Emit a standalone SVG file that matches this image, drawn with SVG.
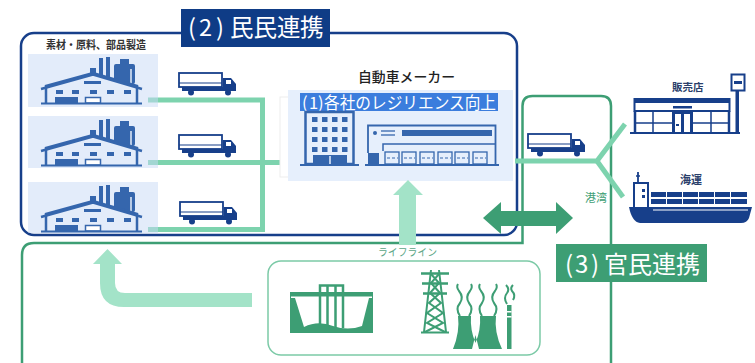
<svg xmlns="http://www.w3.org/2000/svg" xmlns:xlink="http://www.w3.org/1999/xlink" width="755" height="363" viewBox="0 0 755 363">
  <style>
    .jp { font-family: "Noto Sans CJK JP", "Noto Sans", sans-serif; }
    .navy-line { fill: none; stroke: #173f8a; stroke-width: 2.5; }
    .green-line { fill: none; stroke: #3d9e74; stroke-width: 2.5; }
    .flow { fill: none; stroke: #7dd3ae; stroke-width: 5; }
    .panel { fill: #c7d9f5; fill-opacity: 0.5; }
    .fac { fill: #3566ad; }
    .fac-s { fill: none; stroke: #3566ad; }
    .navy { fill: #173f8a; }
    .navy-s { fill: none; stroke: #173f8a; }
    .grn { fill: #3d9e74; }
    .grn-s { fill: none; stroke: #3d9e74; }
    .mint { fill: #a3e3c8; }
  </style>
  <defs>
    <!-- factory icon, drawn for the top panel -->
    <g id="factory">
      <rect x="99" y="58" width="4" height="20" class="fac"/>
      <rect x="106" y="57" width="4" height="21" class="fac"/>
      <rect x="114" y="64" width="21" height="20" rx="2" class="fac"/>
      <rect x="120" y="59" width="9" height="5" class="fac"/>
      <line x1="131" y1="69" x2="131" y2="84" stroke="#e3ecfa" stroke-width="1.5"/>
      <rect x="90" y="68" width="6" height="5" class="fac"/>
      <path d="M46,103 V86 L93,73 L137,86 V103" fill="#e3ecfa" stroke="#3566ad" stroke-width="2.5"/>
      <polyline points="41,89 93,74.5 142,89" class="fac-s" stroke-width="2.5"/>
      <rect x="84" y="81" width="17" height="3" class="fac"/>
      <rect x="56" y="90" width="7" height="4" class="fac"/>
      <rect x="72" y="90" width="7" height="4" class="fac"/>
      <rect x="90" y="90" width="7" height="4" class="fac"/>
      <rect x="107" y="90" width="7" height="4" class="fac"/>
      <rect x="124" y="90" width="7" height="4" class="fac"/>
      <rect x="55" y="97" width="23" height="6" class="fac"/>
      <rect x="85.5" y="97.5" width="15" height="5.5" fill="#fff" stroke="#3566ad" stroke-width="1.5"/>
      <line x1="41" y1="103.5" x2="142" y2="103.5" stroke="#3566ad" stroke-width="2"/>
    </g>
    <!-- delivery truck -->
    <g id="truck">
      <rect x="1" y="1" width="43" height="14" fill="#fff" stroke="#173f8a" stroke-width="1.8"/>
      <line x1="1" y1="11" x2="44" y2="11" stroke="#173f8a" stroke-width="1.2"/>
      <path d="M45,6 H53 L58,12 V19 H45 Z" class="navy"/>
      <rect x="48" y="8" width="5" height="4" fill="#fff"/>
      <rect x="4" y="15" width="54" height="4" class="navy"/>
      <circle cx="13" cy="20.5" r="3" class="navy"/>
      <circle cx="50" cy="20.5" r="3" class="navy"/>
    </g>
  </defs>

  <!-- private sector frame -->
  <g id="private-frame">
    <rect x="21" y="33" width="496" height="202" rx="13" class="navy-line"/>
    <rect x="181" y="9" width="149" height="38" fill="#0f3c86"/>
    <text class="jp" x="188 199 216 230 253.5 277 300" y="36" font-size="23.5" fill="#fff">(2)民民連携</text>
    <text class="jp" x="46" y="49" font-size="11" font-weight="700" fill="#333" textLength="100" lengthAdjust="spacingAndGlyphs">素材・原料、部品製造</text>
  </g>

  <!-- public-private frame: lifeline area joined with the port -->
  <g id="public-frame">
    <path d="M22,363 V255 Q22,243 34,243 H522.5 V106 Q522.5,96 532.5,96 H601 Q611,96 611,106 V363" class="green-line"/>
    <rect x="268" y="261" width="272" height="94" rx="13" fill="#fff" stroke="#7ccaa7" stroke-width="1.5"/>
    <text class="jp" x="378" y="256" font-size="10" fill="#5ba585" textLength="59" lengthAdjust="spacingAndGlyphs">ライフライン</text>
  </g>

  <g id="connectors">
    <polyline points="148,100 262.5,100 262.5,229.5 148,229.5" class="flow"/>
    <line x1="148" y1="162.5" x2="290" y2="162.5" class="flow"/>
    <polyline points="515,161 597,161 625,124" class="flow"/>
    <line x1="597" y1="161" x2="623" y2="197" class="flow"/>
  </g>

  <!-- suppliers -->
  <g id="supplier-1">
    <rect x="28" y="54" width="130" height="53" class="panel"/>
    <use xlink:href="#factory"/>
    <use xlink:href="#truck" transform="translate(178,72)"/>
  </g>
  <g id="supplier-2">
    <rect x="28" y="116" width="130" height="52" class="panel"/>
    <use xlink:href="#factory" transform="translate(0,62)"/>
    <use xlink:href="#truck" transform="translate(178,134)"/>
  </g>
  <g id="supplier-3">
    <rect x="28" y="182" width="130" height="51" class="panel"/>
    <use xlink:href="#factory" transform="translate(0,128)"/>
    <use xlink:href="#truck" transform="translate(179,201)"/>
  </g>

  <!-- automaker -->
  <g id="automaker">
    <text class="jp" x="358" y="82" font-size="13.5" font-weight="500" fill="#222" textLength="97" lengthAdjust="spacingAndGlyphs">自動車メーカー</text>
    <rect x="280" y="97" width="230" height="80" fill="#fff" stroke="#ededed" stroke-width="1"/>
    <rect x="288" y="90" width="225" height="91" fill="#e6effc"/>
    <rect x="300" y="93" width="198" height="18" fill="#3b7ddd"/>
    <text class="jp" x="302 309 318" y="108.5" font-size="16.5" fill="#fff">(1)</text>
    <text class="jp" x="324" y="108.5" font-size="16.5" fill="#fff" textLength="172" lengthAdjust="spacingAndGlyphs">各社のレジリエンス向上</text>
    <!-- office building -->
    <rect x="305.5" y="112" width="48" height="52" fill="none" stroke="#3566ad" stroke-width="2.5"/>
    <g class="fac">
      <rect x="312" y="117" width="5.5" height="5"/><rect x="322" y="117" width="5.5" height="5"/><rect x="332" y="117" width="5.5" height="5"/><rect x="342" y="117" width="5.5" height="5"/>
      <rect x="312" y="127" width="5.5" height="5"/><rect x="322" y="127" width="5.5" height="5"/><rect x="332" y="127" width="5.5" height="5"/><rect x="342" y="127" width="5.5" height="5"/>
      <rect x="312" y="137" width="5.5" height="5"/><rect x="322" y="137" width="5.5" height="5"/><rect x="332" y="137" width="5.5" height="5"/><rect x="342" y="137" width="5.5" height="5"/>
      <rect x="312" y="147" width="5.5" height="5"/><rect x="322" y="147" width="5.5" height="5"/><rect x="332" y="147" width="5.5" height="5"/><rect x="342" y="147" width="5.5" height="5"/>
      <rect x="313" y="155" width="34" height="9"/>
    </g>
    <line x1="330" y1="156" x2="330" y2="164" stroke="#e6effc" stroke-width="1.5"/>
    <line x1="300" y1="165" x2="359" y2="165" stroke="#3566ad" stroke-width="2"/>
    <!-- warehouse -->
    <path d="M368,153 V125.5 H495.5 V165" fill="none" stroke="#3566ad" stroke-width="1.8"/>
    <circle cx="375" cy="133" r="2" class="fac"/>
    <line x1="381" y1="131" x2="395" y2="131" stroke="#3566ad" stroke-width="1.3"/>
    <line x1="381" y1="135" x2="395" y2="135" stroke="#3566ad" stroke-width="1.3"/>
    <rect x="402" y="130" width="90" height="6" class="fac"/>
    <path d="M383,151 V144 H495" fill="none" stroke="#3566ad" stroke-width="1.5"/>
    <rect x="368" y="153" width="11" height="11" class="fac"/>
    <g fill="none" stroke="#3566ad" stroke-width="1.3">
      <rect x="385" y="152" width="14" height="12"/><rect x="402" y="152" width="14" height="12"/>
      <rect x="420" y="152" width="14" height="12"/><rect x="438" y="152" width="14" height="12"/>
      <rect x="455" y="152" width="14" height="12"/><rect x="473" y="152" width="14" height="12"/>
    </g>
    <g stroke="#3566ad" stroke-width="1" stroke-dasharray="3,2">
      <line x1="387" y1="158" x2="398" y2="158"/><line x1="404" y1="158" x2="415" y2="158"/>
      <line x1="422" y1="158" x2="433" y2="158"/><line x1="440" y1="158" x2="451" y2="158"/>
      <line x1="457" y1="158" x2="468" y2="158"/><line x1="475" y1="158" x2="486" y2="158"/>
    </g>
    <line x1="365" y1="165" x2="499" y2="165" stroke="#3566ad" stroke-width="2"/>
  </g>

  <!-- port -->
  <g id="port">
    <use xlink:href="#truck" transform="translate(527,133)"/>
    <text class="jp" x="585" y="202" font-size="11" fill="#3d9e74">港湾</text>
  </g>

  <!-- retail store -->
  <g id="store">
    <text class="jp" x="672" y="91" font-size="10.5" font-weight="700" fill="#2b3f6b">販売店</text>
    <rect x="634" y="98" width="96" height="5" class="navy"/>
    <rect x="634.5" y="99" width="95" height="12" class="navy-s" stroke-width="2"/>
    <rect x="673" y="106" width="19" height="2.5" class="navy"/>
    <path d="M635,111 V132 M729,111 V132" class="navy-s" stroke-width="2.5"/>
    <path d="M653,112 V132 M711,112 V132 M636,123 H672 M693,123 H728" class="navy-s" stroke-width="1.5"/>
    <rect x="672" y="111" width="21" height="21" class="navy"/>
    <rect x="675" y="114" width="6" height="18" fill="#fff"/>
    <rect x="684" y="114" width="6" height="18" fill="#fff"/>
    <rect x="676" y="124" width="3" height="2" class="navy"/>
    <line x1="630" y1="133" x2="740" y2="133" stroke="#173f8a" stroke-width="2"/>
    <rect x="735.5" y="88" width="3.5" height="45" class="navy"/>
    <rect x="731.5" y="74.5" width="13" height="16" fill="#fff" stroke="#173f8a" stroke-width="2"/>
    <rect x="734" y="81" width="8" height="3" class="navy"/>
  </g>

  <!-- shipping -->
  <g id="shipping">
    <text class="jp" x="680" y="184" font-size="11" font-weight="700" fill="#2b3f6b">海運</text>
    <line x1="638" y1="172" x2="638" y2="183" stroke="#173f8a" stroke-width="1.8"/>
    <line x1="636" y1="176" x2="640" y2="176" stroke="#173f8a" stroke-width="1.5"/>
    <rect x="634" y="183" width="14" height="25" fill="#fff" stroke="#173f8a" stroke-width="2"/>
    <rect x="642" y="189" width="3" height="3" class="navy"/>
    <rect x="642" y="195" width="3" height="3" class="navy"/>
    <g class="navy">
      <rect x="651" y="192" width="15" height="5"/><rect x="667" y="192" width="15" height="5"/><rect x="683" y="192" width="15" height="5"/>
      <rect x="699" y="192" width="15" height="5"/><rect x="715" y="192" width="15" height="5"/><rect x="731" y="192" width="16" height="5"/>
      <rect x="651" y="199" width="15" height="5"/><rect x="667" y="199" width="15" height="5"/><rect x="683" y="199" width="15" height="5"/>
      <rect x="699" y="199" width="15" height="5"/><rect x="715" y="199" width="15" height="5"/><rect x="731" y="199" width="16" height="5"/>
    </g>
    <path d="M629,207 H752 L749,218 Q747,223 741,223 H640 Q632,222 629,207 Z" class="navy"/>
    <line x1="653" y1="210" x2="748" y2="210" stroke="#fff" stroke-width="1.2"/>
  </g>

  <!-- lifeline facilities -->
  <g id="lifeline">
    <!-- dam -->
    <path d="M290,292 H373 V333 H290 Z M295,298 L304,327 Q318,320 333,326 Q348,331 362,326 L369,298 Z" class="grn" fill-rule="evenodd"/>
    <rect x="291" y="296.5" width="81" height="1.5" fill="#fff"/>
    <path d="M320,328 V285.5 H343 V328 M327.5,286 V328 M335.5,286 V328" class="grn-s" stroke-width="2.5"/>
    <!-- transmission tower -->
    <g class="grn-s" stroke-width="2">
      <path d="M431,270 L424,332 M439,270 L446,332"/>
      <path d="M421,273.5 H449 M422,283.5 H448 M423,293.5 H447" stroke-width="2.5"/>
      <path d="M431,274 L439,283 L430,293 L441,303 L427,313 L443,323 L425,332 M439,274 L431,283 L440,293 L429,303 L443,313 L427,323 L445,332"/>
      <path d="M421,332.5 H449"/>
    </g>
    <!-- cooling towers and stack -->
    <path d="M453,349 Q460,332 458,316 H471 Q470,330 475.5,343 Q481,330 480,316 H496 Q494,332 502,349 H479 L475.5,335 L472,349 Z" class="grn"/>
    <g class="grn-s" stroke-width="2">
      <path d="M460,316 Q455,309 460,303 Q464,297 459,291 Q456,287 458,284"/>
      <path d="M469,316 Q474,309 469,303 Q465,297 470,291 Q473,287 471,284"/>
      <path d="M482,316 Q477,309 482,303 Q486,297 481,291 Q478,287 480,284"/>
      <path d="M494,316 Q499,309 494,303 Q490,297 495,291 Q498,287 496,284"/>
      <path d="M507,304 Q503,298 507,293 Q510,289 506,285"/>
      <path d="M513,300 Q516,295 512,291 Q510,288 513,285"/>
    </g>
    <rect x="507" y="305" width="4.5" height="44" class="grn"/>
    <rect x="507" y="311" width="4.5" height="1.5" fill="#fff"/>
    <rect x="507" y="316" width="4.5" height="1.5" fill="#fff"/>
  </g>

  <!-- arrows -->
  <g id="arrows">
    <path d="M252,293 H125 Q115,293 115,283 V264 H122 L107.5,249 L93,264 H100 V283 Q100,307 124,307 H252 Z" class="mint"/>
    <path d="M399,245 V195 H393 L408,180 L423,195 H416 V245 Z" class="mint"/>
    <path d="M483,218 L501,202 V211 H556 V202 L573,218 L556,234 V226 H501 V234 Z" class="grn"/>
  </g>

  <g id="public-label">
    <rect x="556" y="244" width="151" height="38" fill="#3d9e74"/>
    <text class="jp" x="565 575 591 604" y="273" font-size="24" fill="#fff">(3)官民連携</text>
  </g>
</svg>
